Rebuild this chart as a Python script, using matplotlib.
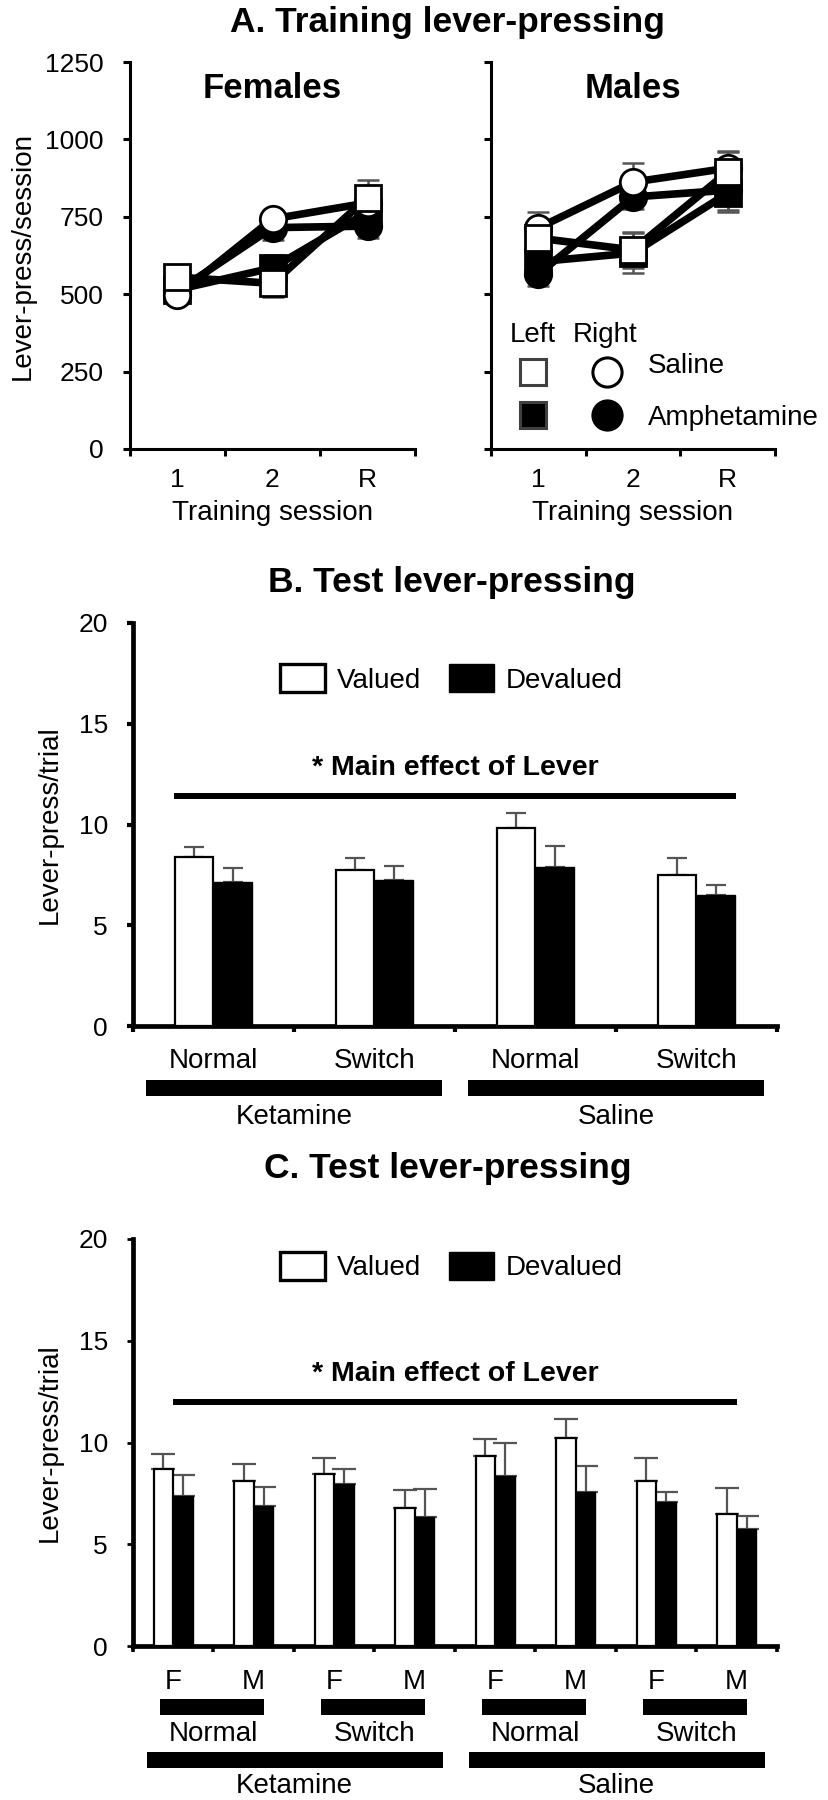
import matplotlib
matplotlib.use('Agg')
import matplotlib.pyplot as plt
from matplotlib.patches import Rectangle, Patch
import numpy as np

plt.rcParams['font.family'] = ['Liberation Sans', 'DejaVu Sans']

# ---------------- Panel A data ----------------
sessions = ['1', '2', 'R']
fem_left_saline = [555, 535, 812]
fem_right_saline = [497, 743, 795]
fem_left_amph = [515, 585, 765]
fem_right_amph = [510, 715, 720]
fem_left_saline_err = [40, 45, 58]
fem_right_saline_err = [30, 22, 50]
fem_left_amph_err = [35, 40, 50]
fem_right_amph_err = [30, 40, 40]

male_left_saline = [681, 643, 895]
male_right_saline = [714, 862, 907]
male_left_amph = [605, 633, 826]
male_right_amph = [565, 814, 836]
male_left_saline_err = [45, 58, 65]
male_right_saline_err = [52, 62, 55]
male_left_amph_err = [45, 65, 55]
male_right_amph_err = [40, 40, 70]

# ---------------- Panel B data ----------------
b_conditions = ['Normal', 'Switch', 'Normal', 'Switch']
b_drugs = ['Ketamine', 'Saline']
b_valued = [8.40, 7.74, 9.81, 7.48]
b_valued_err = [0.50, 0.61, 0.75, 0.84]
b_devalued = [7.15, 7.25, 7.91, 6.50]
b_devalued_err = [0.68, 0.71, 1.04, 0.50]

# ---------------- Panel C data ----------------
c_sex = ['F', 'M', 'F', 'M', 'F', 'M', 'F', 'M']
c_conditions = ['Normal', 'Switch', 'Normal', 'Switch']
c_drugs = ['Ketamine', 'Saline']
c_valued = [8.68, 8.11, 8.45, 6.80, 9.35, 10.24, 8.11, 6.50]
c_valued_err = [0.74, 0.83, 0.77, 0.87, 0.81, 0.90, 1.11, 1.25]
c_devalued = [7.37, 6.88, 7.96, 6.32, 8.35, 7.55, 7.09, 5.75]
c_devalued_err = [1.03, 0.92, 0.74, 1.38, 1.61, 1.30, 0.49, 0.65]

W, H = 829, 1800
fig = plt.figure(figsize=(W / 100, H / 100), dpi=100)


def px_axes(x0, x1, y0, y1):
    return fig.add_axes([x0 / W, 1 - y1 / H, (x1 - x0) / W, (y1 - y0) / H])


ERR_COLOR = '#555555'
TICK_FS = 19
LAB_FS = 20

# ================= Panel A =================
fig.text(447 / W, 1 - 32 / H, 'A. Training lever-pressing', ha='center', va='baseline',
         fontsize=25.5, fontweight='bold')


def style_a(ax, show_ylabels):
    for s in ['top', 'right']:
        ax.spines[s].set_visible(False)
    for s in ['left', 'bottom']:
        ax.spines[s].set_linewidth(2.2)
    ax.set_xlim(0.5, 3.5)
    ax.set_ylim(0, 1250)
    ax.set_xticks([0.5, 1.5, 2.5, 3.5])
    ax.set_xticklabels([])
    ax.set_xticks([1, 2, 3], minor=True)
    ax.set_xticklabels(sessions, minor=True)
    ax.set_yticks([0, 250, 500, 750, 1000, 1250])
    ax.tick_params(which='major', direction='out', length=5, width=2.2,
                   labelsize=TICK_FS, pad=14)
    ax.tick_params(axis='x', which='minor', length=0, labelsize=TICK_FS, pad=13.5)
    if not show_ylabels:
        ax.set_yticklabels([])
    ax.set_xlabel('Training session', fontsize=LAB_FS)
    ax.xaxis.label.set_va('center')
    ax.xaxis.set_label_coords(0.5, -0.165)


def draw_series(ax, vals, errs, marker, face, edge):
    x = np.arange(1, len(sessions) + 1)
    ax.errorbar(x, vals, yerr=errs, fmt='none', ecolor=ERR_COLOR, elinewidth=1.8,
                capsize=8, capthick=1.8, zorder=2)
    ax.plot(x, vals, color='black', lw=5.5, zorder=3, solid_capstyle='round')
    ax.plot(x, vals, ls='none', marker=marker, ms=19, mfc=face, mec=edge,
            mew=2, zorder=4)


axF = px_axes(130, 415, 62, 449)
style_a(axF, True)
axF.set_ylabel('Lever-press/session', fontsize=LAB_FS)
axF.yaxis.label.set_va('center')
axF.yaxis.set_label_coords(-0.375, 0.5)
draw_series(axF, fem_right_amph, fem_right_amph_err, 'o', 'black', 'black')
draw_series(axF, fem_left_amph, fem_left_amph_err, 's', 'black', 'black')
draw_series(axF, fem_right_saline, fem_right_saline_err, 'o', 'white', 'black')
draw_series(axF, fem_left_saline, fem_left_saline_err, 's', 'white', 'black')
axF.text(0.5, 0.907, 'Females', transform=axF.transAxes, ha='center', va='baseline',
         fontsize=25, fontweight='bold')

axM = px_axes(491, 775, 62, 449)
style_a(axM, False)
draw_series(axM, male_right_amph, male_right_amph_err, 'o', 'black', 'black')
draw_series(axM, male_left_amph, male_left_amph_err, 's', 'black', 'black')
draw_series(axM, male_right_saline, male_right_saline_err, 'o', 'white', 'black')
draw_series(axM, male_left_saline, male_left_saline_err, 's', 'white', 'black')
axM.text(0.5, 0.907, 'Males', transform=axM.transAxes, ha='center', va='baseline',
         fontsize=25, fontweight='bold')

# custom legend in males panel
axM.text(0.067, 0.276, 'Left', transform=axM.transAxes, ha='left', va='baseline',
         fontsize=LAB_FS)
axM.text(0.289, 0.276, 'Right', transform=axM.transAxes, ha='left', va='baseline',
         fontsize=LAB_FS)
axM.plot([0.148], [0.199], transform=axM.transAxes, marker='s', ms=19, mfc='white',
         mec='#404040', mew=2.2, ls='none', clip_on=False)
axM.plot([0.148], [0.088], transform=axM.transAxes, marker='s', ms=19, mfc='black',
         mec='#404040', mew=2.2, ls='none', clip_on=False)
axM.plot([0.408], [0.199], transform=axM.transAxes, marker='o', ms=21, mfc='white',
         mec='black', mew=2.2, ls='none', clip_on=False)
axM.plot([0.408], [0.088], transform=axM.transAxes, marker='o', ms=21, mfc='black',
         mec='black', mew=2.2, ls='none', clip_on=False)
axM.text(0.553, 0.196, 'Saline', transform=axM.transAxes, ha='left', va='baseline',
         fontsize=LAB_FS, clip_on=False)
axM.text(0.553, 0.062, 'Amphetamine', transform=axM.transAxes, ha='left',
         va='baseline', fontsize=LAB_FS, clip_on=False)


# ================= Panels B & C helpers =================
def style_bc(ax, n):
    for s in ['top', 'right']:
        ax.spines[s].set_visible(False)
    for s in ['left', 'bottom']:
        ax.spines[s].set_linewidth(3.4)
    ax.set_xlim(-0.5, n - 0.5)
    ax.set_ylim(0, 20)
    ax.set_xticks(np.arange(n + 1) - 0.5)
    ax.set_xticklabels([])
    ax.set_yticks([0, 5, 10, 15, 20])
    ax.tick_params(direction='out', length=4.5, width=3, labelsize=TICK_FS, pad=13.5)
    ax.set_ylabel('Lever-press/trial', fontsize=LAB_FS)
    ax.yaxis.label.set_va('center')
    ax.yaxis.set_label_coords(-0.129, 0.5)


def draw_bars(ax, valued, verr, deval, derr, width, capsize):
    x = np.arange(len(valued))
    xv = x - width / 2
    xd = x + width / 2
    zeros = np.zeros(len(valued))
    ax.bar(xv, valued, width=width, facecolor='white', edgecolor='black', lw=1.6, zorder=3)
    ax.bar(xd, deval, width=width, facecolor='black', edgecolor='black', lw=1.0, zorder=3)
    ax.errorbar(xv, valued, yerr=[zeros, verr], fmt='none', ecolor=ERR_COLOR,
                elinewidth=1.6, capsize=capsize, capthick=1.6, zorder=2)
    ax.errorbar(xd, deval, yerr=[zeros, derr], fmt='none', ecolor=ERR_COLOR,
                elinewidth=1.6, capsize=capsize, capthick=1.6, zorder=2)


def legend_bc(ax, ycenter):
    handles = [Patch(facecolor='white', edgecolor='black', lw=2.4, label='Valued'),
               Patch(facecolor='black', edgecolor='black', lw=1, label='Devalued')]
    ax.legend(handles=handles, ncol=2, loc='center', bbox_to_anchor=(0.495, ycenter),
              frameon=False, fontsize=LAB_FS, handlelength=1.6, handleheight=1.15,
              handletextpad=0.45, columnspacing=1.0, borderpad=0, borderaxespad=0)


def under_bar(ax, x0, x1, y0, y1):
    tr = ax.get_xaxis_transform()
    ax.add_patch(Rectangle((x0, y1), x1 - x0, y0 - y1, transform=tr, facecolor='black',
                           edgecolor='none', clip_on=False))


# ================= Panel B =================
fig.text(452 / W, 1 - 592 / H, 'B. Test lever-pressing', ha='center', va='baseline',
         fontsize=25.5, fontweight='bold')
axB = px_axes(133, 777, 623, 1026)
style_bc(axB, len(b_valued))
draw_bars(axB, b_valued, b_valued_err, b_devalued, b_devalued_err, 0.24, 7.5)
legend_bc(axB, 0.861)
axB.plot([-0.245, 3.245], [11.4, 11.4], color='black', lw=4.3, solid_capstyle='butt')
axB.text(1.5, 12.46, '* Main effect of Lever', ha='center', va='baseline',
         fontsize=20.5, fontweight='bold')
trB = axB.get_xaxis_transform()
for i, lab in enumerate(b_conditions):
    axB.text(i, -0.104, lab, transform=trB, ha='center', va='baseline', fontsize=LAB_FS)
for j, drug in enumerate(b_drugs):
    a, b = 2 * j, 2 * j + 1
    under_bar(axB, a - 0.42, b + 0.42, -0.134, -0.174)
    axB.text((a + b) / 2, -0.244, drug, transform=trB, ha='center', va='baseline',
             fontsize=LAB_FS)

# ================= Panel C =================
fig.text(448 / W, 1 - 1178 / H, 'C. Test lever-pressing', ha='center', va='baseline',
         fontsize=25.5, fontweight='bold')
axC = px_axes(133, 777, 1239, 1646)
style_bc(axC, len(c_valued))
axC.tick_params(axis='y', width=2)
axC.tick_params(axis='x', width=2.6)
draw_bars(axC, c_valued, c_valued_err, c_devalued, c_devalued_err, 0.245, 8.5)
legend_bc(axC, 0.932)
axC.plot([0.0, 7.0], [12.0, 12.0], color='black', lw=4.3, solid_capstyle='butt')
axC.text(3.5, 13.02, '* Main effect of Lever', ha='center', va='baseline',
         fontsize=20.5, fontweight='bold')
trC = axC.get_xaxis_transform()
for i, lab in enumerate(c_sex):
    axC.text(i, -0.1057, lab, transform=trC, ha='center', va='baseline', fontsize=LAB_FS)
for k, cond in enumerate(c_conditions):
    a, b = 2 * k, 2 * k + 1
    under_bar(axC, a - 0.17, b + 0.13, -0.130, -0.170)
    axC.text((a + b) / 2, -0.2327, cond, transform=trC, ha='center', va='baseline',
             fontsize=LAB_FS)
for j, drug in enumerate(c_drugs):
    a, b = 4 * j, 4 * j + 3
    under_bar(axC, a - 0.33, b + 0.35, -0.2596, -0.300)
    axC.text((a + b) / 2, -0.361, drug, transform=trC, ha='center', va='baseline',
             fontsize=LAB_FS)

fig.savefig('out.png', dpi=100)
